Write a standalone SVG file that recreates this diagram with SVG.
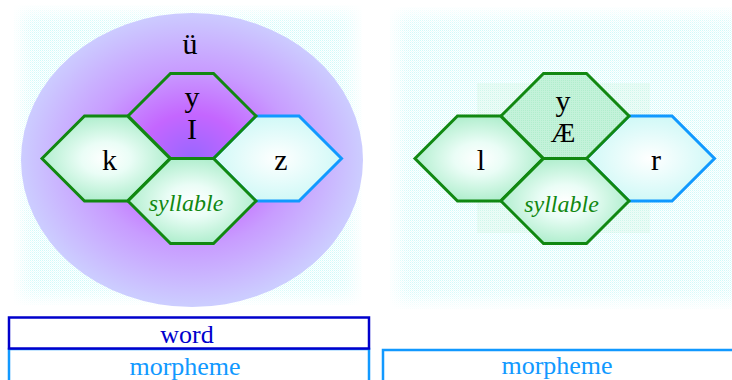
<svg xmlns="http://www.w3.org/2000/svg" width="732" height="380" viewBox="0 0 732 380">
  <style>
    .lbl { font-family: "Liberation Serif", "Times New Roman", serif; fill: #000; text-anchor: middle; }
    .big { font-size: 30px; }
    .mid { font-size: 28px; }
    .syl { font-family: "Liberation Serif", "Times New Roman", serif; font-style: italic; font-size: 24px; fill: #118811; text-anchor: middle; }
    .box { font-family: "Liberation Serif", "Times New Roman", serif; font-size: 26px; text-anchor: middle; }
    .hexg { stroke: #118811; stroke-width: 3; stroke-linejoin: miter; }
    .hexb { stroke: #1199ff; stroke-width: 3; stroke-linejoin: miter; }
    .mint { fill: url(#mintGrad); }
    .aqua { fill: url(#aquaGrad); }
  </style>
  <defs>
    <!-- dithered pale cyan texture -->
    <pattern id="dots" width="2" height="2" patternUnits="userSpaceOnUse">
      <rect width="2" height="2" fill="#ffffff"/>
      <rect x="0" y="0" width="1" height="1" fill="#cffafa"/>
      <rect x="1" y="1" width="1" height="1" fill="#e6fdfd"/>
    </pattern>
    <pattern id="dotsGreen" width="2" height="2" patternUnits="userSpaceOnUse">
      <rect width="2" height="2" fill="#e2faf0"/>
      <rect x="0" y="0" width="1" height="1" fill="#cdf5e4"/>
    </pattern>
    <pattern id="dotsTop" width="2" height="2" patternUnits="userSpaceOnUse">
      <rect width="2" height="2" fill="#c4f2da"/>
      <rect x="0" y="0" width="1" height="1" fill="#b0eecd"/>
    </pattern>
    <!-- soft fade at the panel borders -->
    <filter id="soft" x="-10%" y="-10%" width="120%" height="120%">
      <feGaussianBlur stdDeviation="8"/>
    </filter>
    <mask id="fadeL" maskUnits="userSpaceOnUse" x="0" y="0" width="380" height="320">
      <rect x="22" y="13" width="332" height="284" fill="#ffffff" filter="url(#soft)"/>
    </mask>
    <mask id="fadeR" maskUnits="userSpaceOnUse" x="380" y="0" width="352" height="320">
      <rect x="398" y="15" width="360" height="286" fill="#ffffff" filter="url(#soft)"/>
    </mask>
    <radialGradient id="blob" cx="192" cy="158" r="171" gradientUnits="userSpaceOnUse" gradientTransform="translate(192 158) scale(1 0.86) translate(-192 -158)">
      <stop offset="0" stop-color="#9966ff"/>
      <stop offset="0.3" stop-color="#c466ff"/>
      <stop offset="0.6" stop-color="#c89cff"/>
      <stop offset="1" stop-color="#cccdff"/>
    </radialGradient>
    <radialGradient id="mintGrad" cx="0.5" cy="0.5" r="0.55">
      <stop offset="0" stop-color="#ffffff"/>
      <stop offset="0.35" stop-color="#eafdf6"/>
      <stop offset="1" stop-color="#a8ecc8"/>
    </radialGradient>
    <radialGradient id="aquaGrad" cx="0.5" cy="0.5" r="0.55">
      <stop offset="0" stop-color="#ffffff"/>
      <stop offset="1" stop-color="#ccf8f6"/>
    </radialGradient>
    <polygon id="hex" points="-64,0 -21.5,-42.5 21.5,-42.5 64,0 21.5,42.5 -21.5,42.5"/>
  </defs>

  <!-- panel backgrounds -->
  <rect x="14" y="5" width="348" height="300" fill="url(#dots)" mask="url(#fadeL)"/>
  <rect x="390" y="7" width="342" height="302" fill="url(#dots)" mask="url(#fadeR)"/>
  <rect x="477" y="83" width="173" height="150" fill="url(#dotsGreen)" opacity="0.6"/>

  <!-- purple word region -->
  <ellipse id="word-region" cx="192" cy="160" rx="171" ry="147" fill="url(#blob)"/>

  <!-- left cluster -->
  <g id="node-z">
    <use href="#hex" transform="translate(277.5 158.5)" class="aqua hexb"/>
    <text class="lbl big" x="281" y="170">z</text>
  </g>
  <g id="node-yI">
    <use href="#hex" transform="translate(192 116)" fill="none" class="hexg"/>
    <text class="lbl big" x="192" y="107">y</text>
    <text class="lbl big" x="192" y="139">I</text>
  </g>
  <g id="node-k">
    <use href="#hex" transform="translate(106 158.5)" class="mint hexg"/>
    <text class="lbl big" x="109.5" y="170">k</text>
  </g>
  <g id="node-syllable-left">
    <use href="#hex" transform="translate(192 201)" class="mint hexg"/>
    <text class="syl" x="186" y="211">syllable</text>
  </g>
  <text id="label-umlaut" class="lbl big" x="190" y="54">ü</text>

  <!-- right cluster -->
  <g id="node-r">
    <use href="#hex" transform="translate(650.5 158.5)" class="aqua hexb"/>
    <text class="lbl big" x="656" y="170">r</text>
  </g>
  <g id="node-yAE">
    <use href="#hex" transform="translate(565 116)" fill="url(#dotsTop)" class="hexg"/>
    <text class="lbl big" x="563" y="111">y</text>
    <text class="lbl mid" x="563" y="142">Æ</text>
  </g>
  <g id="node-l">
    <use href="#hex" transform="translate(479 158.5)" class="mint hexg"/>
    <text class="lbl big" x="481" y="170">l</text>
  </g>
  <g id="node-syllable-right">
    <use href="#hex" transform="translate(565 201)" class="mint hexg"/>
    <text class="syl" x="561.5" y="212">syllable</text>
  </g>

  <!-- tier boxes -->
  <g id="box-morpheme-left">
    <rect x="9" y="349" width="360" height="40" fill="#ffffff" stroke="#1199ff" stroke-width="2.5"/>
    <text class="box" x="185" y="375" fill="#1199ff">morpheme</text>
  </g>
  <g id="box-word">
    <rect x="9" y="317.5" width="360" height="31" fill="#ffffff" stroke="#0000cc" stroke-width="2.5"/>
    <text class="box" x="187" y="343" fill="#0000cc">word</text>
  </g>
  <g id="box-morpheme-right">
    <rect x="383" y="350" width="360" height="40" fill="#ffffff" stroke="#1199ff" stroke-width="2.5"/>
    <text class="box" x="557" y="374" fill="#1199ff">morpheme</text>
  </g>

  <g id="connectors"/>
</svg>
